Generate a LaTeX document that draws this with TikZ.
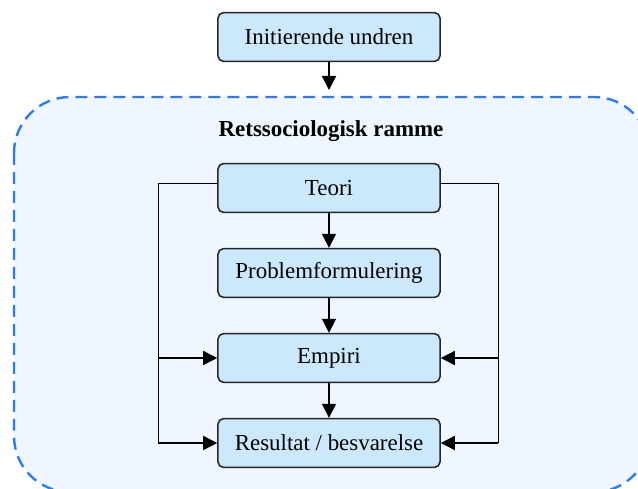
\documentclass[tikz,border=0pt]{standalone}
\usepackage{fontspec}
\setmainfont{Liberation Serif}
\usetikzlibrary{arrows.meta}
\definecolor{boxblue}{HTML}{CCE8FC}
\definecolor{frameblue}{HTML}{EFF6FF}
\definecolor{dashblue}{HTML}{2B7BF5}
\tikzset{
  stepbox/.style={draw=black!85, fill=boxblue, rounded corners=4pt, line width=1.1pt,
    minimum width=5.55cm, minimum height=1.22cm, font=\fontsize{16.3}{18}\selectfont},
  flow/.style={-{Triangle[length=10pt,width=10pt]}, line width=1.1pt},
  side/.style={line width=0.6pt}
}
\begin{document}
\begin{tikzpicture}[x=0.025cm,y=-0.025cm]
    \useasboundingbox (0,0) rectangle (638,488);
    \clip (0,0) rectangle (638,488);
    % Dashed frame round the inner steps
    \draw[dashblue, fill=frameblue, dash pattern=on 8.5pt off 5pt, line width=1.7pt,
      rounded corners=1.4cm] (14,97) rectangle (650,492);
    \node[font=\fontsize{16.3}{18}\selectfont\bfseries] (ramme) at (331,131) {Retssociologisk ramme};

    % Boxes
    \node[stepbox] (undren) at (329,37) {Initierende undren};
    \node[stepbox] (teori) at (329,188) {Teori};
    \node[stepbox] (problem) at (329,273) {Problemformulering};
    \node[stepbox] (empiri) at (329,358) {Empiri};
    \node[stepbox] (resultat) at (329,443) {Resultat / besvarelse};

    % Main flow
    \coordinate (framein) at (329,90);
    \draw[flow] (undren) -- (framein);
    \draw[flow] (teori) -- (problem);
    \draw[flow] (problem) -- (empiri);
    \draw[flow] (empiri) -- (resultat);

    % Side loops
    \coordinate (lefttop) at (158,183);
    \coordinate (leftbot) at (158,443);
    \coordinate (righttop) at (498,183);
    \coordinate (rightbot) at (498,443);
    \draw[side] (teori.west |- lefttop) -- (lefttop) -- (leftbot);
    \draw[side] (teori.east |- righttop) -- (righttop) -- (rightbot);
    \draw[flow] (lefttop |- empiri) -- (empiri.west);
    \draw[flow] (leftbot) -- (resultat.west);
    \draw[flow] (righttop |- empiri) -- (empiri.east);
    \draw[flow] (rightbot) -- (resultat.east);
\end{tikzpicture}
\end{document}
